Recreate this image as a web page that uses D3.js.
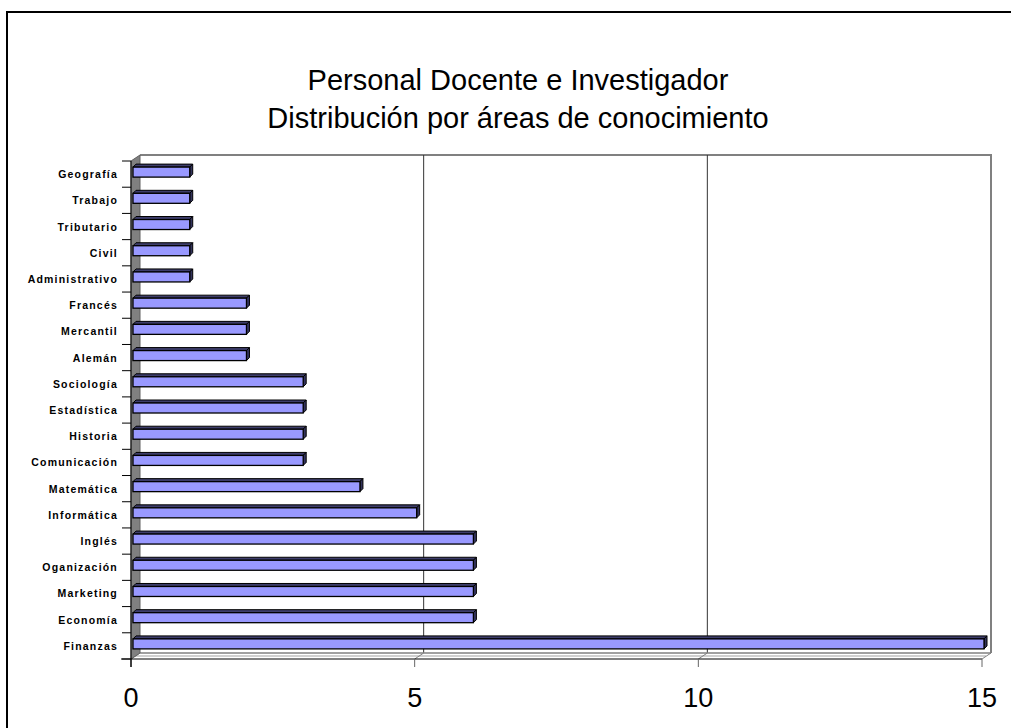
<!DOCTYPE html>
<html>
<head>
<meta charset="utf-8">
<script src="https://cdn.jsdelivr.net/npm/d3@7"></script>
<style>
  body { margin: 0; background: #fff; }
  svg { display: block; font-family: 'Liberation Sans', Arial, sans-serif; }
</style>
</head>
<body>
<svg id="chart" width="1011" height="728"></svg>
<script>
// areas, top to bottom as drawn
const categories = ['Geografía', 'Trabajo', 'Tributario', 'Civil', 'Administrativo',
  'Francés', 'Mercantil', 'Alemán', 'Sociología', 'Estadística', 'Historia',
  'Comunicación', 'Matemática', 'Informática', 'Inglés', 'Oganización',
  'Marketing', 'Economía', 'Finanzas']
const values = [1, 1, 1, 1, 1, 2, 2, 2, 3, 3, 3, 3, 4, 5, 6, 6, 6, 6, 15]
const xTicks = [0, 5, 10, 15]
const titleLines = ['Personal Docente e Investigador', 'Distribución por áreas de conocimiento']

const data = categories.map((c, i) => ({ cat: c, val: values[i] }))

const svg = d3.select('#chart')

// outer frame
svg.append('rect')
  .attr('x', 7).attr('y', 12)
  .attr('width', 1020).attr('height', 730)
  .attr('fill', 'none').attr('stroke', '#000').attr('stroke-width', 2)

// title
svg.append('g').selectAll('text')
  .data(titleLines)
  .enter().append('text')
  .attr('x', 518)
  .attr('y', (d, i) => 90 + i * 38)
  .attr('text-anchor', 'middle')
  .attr('font-size', 29)
  .attr('fill', '#000')
  .text(d => d)

// front plane scales, depth offset for back wall
const x = d3.scaleLinear().domain([0, 15]).range([131, 982])
const y = d3.scaleBand().domain(categories).range([161, 659])
const dx = 9
const dy = -6
const yTop = y.range()[0]
const yBot = y.range()[1]

const g = svg.append('g')

// back wall
g.append('rect')
  .attr('x', x(0) + dx).attr('y', yTop + dy)
  .attr('width', x(15) - x(0)).attr('height', yBot - yTop)
  .attr('fill', '#fff')
g.append('path')
  .attr('d', `M${x(0) + dx},${yTop + dy} H${x(15) + dx} V${yBot + dy}`)
  .attr('fill', 'none').attr('stroke', '#808080').attr('stroke-width', 2)

// gridlines on back wall
g.selectAll('.grid')
  .data(xTicks.filter(d => d > 0 && d < 15))
  .enter().append('line')
  .attr('class', 'grid')
  .attr('x1', d => x(d) + dx).attr('x2', d => x(d) + dx)
  .attr('y1', yTop + dy).attr('y2', yBot + dy)
  .attr('stroke', '#333').attr('stroke-width', 1)

// floor
g.append('path')
  .attr('d', `M${x(0)},${yBot} L${x(0) + dx},${yBot + dy} H${x(15) + dx} L${x(15)},${yBot} Z`)
  .attr('fill', '#fff').attr('stroke', 'none')
g.append('line')
  .attr('x1', x(0) + dx).attr('x2', x(15) + dx)
  .attr('y1', yBot + dy).attr('y2', yBot + dy)
  .attr('stroke', '#808080').attr('stroke-width', 1.5)
g.append('line')
  .attr('x1', x(0) + 4).attr('x2', x(15) + 4)
  .attr('y1', yBot - 3).attr('y2', yBot - 3)
  .attr('stroke', '#c0c0c0').attr('stroke-width', 1.5)
g.selectAll('.floorTick')
  .data(xTicks)
  .enter().append('line')
  .attr('class', 'floorTick')
  .attr('x1', d => x(d)).attr('y1', yBot)
  .attr('x2', d => x(d) + dx).attr('y2', yBot + dy)
  .attr('stroke', '#808080')

// left side wall
g.append('path')
  .attr('d', `M${x(0)},${yTop} L${x(0) + dx},${yTop + dy} V${yBot + dy} L${x(0)},${yBot} Z`)
  .attr('fill', '#808080').attr('stroke', '#606060').attr('stroke-width', 1)

// bars (sit a bit behind the front plane)
const ox = 2
const oy = -2
const bh = 10
const d3x = 3
const d3y = -3
const bars = g.selectAll('.bar')
  .data(data)
  .enter().append('g')
  .attr('class', 'bar')

bars.append('path') // top face
  .attr('d', d => {
    const x0 = x(0) + ox
    const x1 = x(d.val) + ox
    const yt = y(d.cat) + y.bandwidth() / 2 - bh / 2 + oy
    return `M${x0},${yt} L${x0 + d3x},${yt + d3y} H${x1 + d3x} L${x1},${yt} Z`
  })
  .attr('fill', '#3d3d6b').attr('stroke', '#000').attr('stroke-width', 1)

bars.append('path') // side face
  .attr('d', d => {
    const x1 = x(d.val) + ox
    const yt = y(d.cat) + y.bandwidth() / 2 - bh / 2 + oy
    return `M${x1},${yt} L${x1 + d3x},${yt + d3y} V${yt + bh + d3y} L${x1},${yt + bh} Z`
  })
  .attr('fill', '#33335c').attr('stroke', '#000').attr('stroke-width', 1)

bars.append('rect') // front face
  .attr('x', x(0) + ox)
  .attr('y', d => y(d.cat) + y.bandwidth() / 2 - bh / 2 + oy)
  .attr('width', d => x(d.val) - x(0))
  .attr('height', bh)
  .attr('fill', '#9999ff').attr('stroke', '#000').attr('stroke-width', 1.3)

// front axes
g.append('line')
  .attr('x1', x(0) - 10).attr('x2', x(15))
  .attr('y1', yBot).attr('y2', yBot)
  .attr('stroke', '#000')
g.append('line')
  .attr('x1', x(0)).attr('x2', x(0))
  .attr('y1', yTop).attr('y2', yBot + 8)
  .attr('stroke', '#000')

// category ticks
g.selectAll('.ytick')
  .data(d3.range(categories.length + 1))
  .enter().append('line')
  .attr('class', 'ytick')
  .attr('x1', x(0) - 9).attr('x2', x(0))
  .attr('y1', i => yTop + i * y.step()).attr('y2', i => yTop + i * y.step())
  .attr('stroke', '#000')

g.selectAll('.ylabel')
  .data(categories)
  .enter().append('text')
  .attr('class', 'ylabel')
  .attr('x', 118)
  .attr('y', d => y(d) + y.bandwidth() / 2 + 4)
  .attr('text-anchor', 'end')
  .attr('font-size', 10.5)
  .attr('font-weight', 'bold')
  .attr('letter-spacing', 1.2)
  .text(d => d)

// value ticks
g.selectAll('.xtick')
  .data(xTicks)
  .enter().append('line')
  .attr('class', 'xtick')
  .attr('x1', d => x(d)).attr('x2', d => x(d))
  .attr('y1', yBot).attr('y2', yBot + 8)
  .attr('stroke', d => d === 0 ? '#000' : '#666')

g.selectAll('.xlabel')
  .data(xTicks)
  .enter().append('text')
  .attr('class', 'xlabel')
  .attr('x', d => x(d))
  .attr('y', 707)
  .attr('text-anchor', 'middle')
  .attr('font-size', 27)
  .text(d => d)
</script>
</body>
</html>
